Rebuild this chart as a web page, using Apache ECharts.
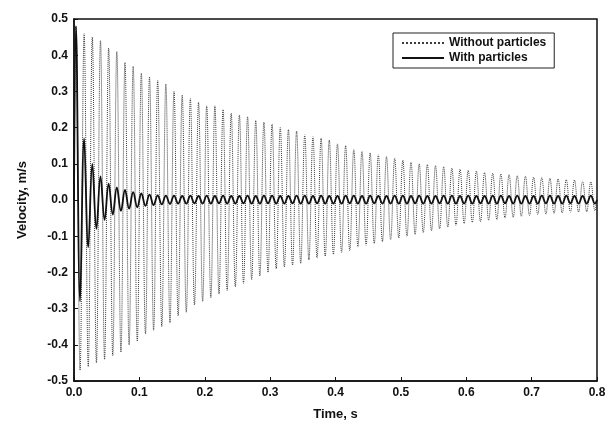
<!DOCTYPE html>
<html>
<head>
<meta charset="utf-8">
<script src="https://cdn.jsdelivr.net/npm/echarts@6/dist/echarts.min.js"></script>
<style>
  html, body { margin: 0; padding: 0; background: #fff; }
  #chart { width: 611px; height: 428px; }
</style>
</head>
<body>
<div id="chart"></div>
<script>
// peak times (s): one row = two oscillation cycles
var peakTime = [0,
  0.003, 0.0093, 0.0155, 0.0218,  0.028, 0.0343, 0.0405, 0.0468,
  0.053, 0.0593, 0.0655, 0.0718,  0.078, 0.0843, 0.0905, 0.0968,
  0.103, 0.1093, 0.1155, 0.1218,  0.128, 0.1343, 0.1405, 0.1468,
  0.153, 0.1593, 0.1655, 0.1718,  0.178, 0.1843, 0.1905, 0.1968,
  0.203, 0.2093, 0.2155, 0.2218,  0.228, 0.2343, 0.2405, 0.2468,
  0.253, 0.2593, 0.2655, 0.2718,  0.278, 0.2843, 0.2905, 0.2968,
  0.303, 0.3093, 0.3155, 0.3218,  0.328, 0.3343, 0.3405, 0.3468,
  0.353, 0.3593, 0.3655, 0.3718,  0.378, 0.3843, 0.3905, 0.3968,
  0.403, 0.4093, 0.4155, 0.4218,  0.428, 0.4343, 0.4405, 0.4468,
  0.453, 0.4593, 0.4655, 0.4718,  0.478, 0.4843, 0.4905, 0.4968,
  0.503, 0.5093, 0.5155, 0.5218,  0.528, 0.5343, 0.5405, 0.5468,
  0.553, 0.5593, 0.5655, 0.5718,  0.578, 0.5843, 0.5905, 0.5968,
  0.603, 0.6093, 0.6155, 0.6218,  0.628, 0.6343, 0.6405, 0.6468,
  0.653, 0.6593, 0.6655, 0.6718,  0.678, 0.6843, 0.6905, 0.6968,
  0.703, 0.7093, 0.7155, 0.7218,  0.728, 0.7343, 0.7405, 0.7468,
  0.753, 0.7593, 0.7655, 0.7718,  0.778, 0.7843, 0.7905, 0.7968,
  0.8];

// velocity peaks (m/s), without particles
var velWithout = [0,
  0.48, -0.47, 0.46, -0.46,      0.45, -0.45, 0.44, -0.44,
  0.42, -0.43, 0.41, -0.42,      0.38, -0.40, 0.37, -0.39,
  0.35, -0.37, 0.34, -0.36,      0.33, -0.35, 0.32, -0.34,
  0.30, -0.32, 0.29, -0.31,      0.28, -0.29, 0.27, -0.28,
  0.26, -0.27, 0.26, -0.26,      0.25, -0.25, 0.24, -0.24,
  0.235, -0.23, 0.23, -0.22,     0.22, -0.21, 0.215, -0.20,
  0.21, -0.19, 0.20, -0.185,     0.195, -0.18, 0.19, -0.175,
  0.18, -0.165, 0.175, -0.16,    0.17, -0.155, 0.165, -0.15,
  0.155, -0.145, 0.15, -0.14,    0.14, -0.13, 0.135, -0.125,
  0.13, -0.12, 0.125, -0.115,    0.12, -0.11, 0.115, -0.105,
  0.11, -0.10, 0.105, -0.095,    0.10, -0.09, 0.098, -0.085,
  0.095, -0.08, 0.092, -0.075,   0.088, -0.07, 0.085, -0.065,
  0.082, -0.062, 0.08, -0.06,    0.076, -0.056, 0.074, -0.054,
  0.072, -0.05, 0.07, -0.048,    0.067, -0.045, 0.066, -0.043,
  0.063, -0.04, 0.062, -0.039,   0.06, -0.037, 0.058, -0.036,
  0.056, -0.034, 0.055, -0.033,  0.052, -0.032, 0.05, -0.03,
  0.01];

// velocity peaks (m/s), with particles
var velWith = [0,
  0.48, -0.28, 0.17, -0.13,      0.10, -0.08, 0.065, -0.055,
  0.045, -0.04, 0.035, -0.03,    0.028, -0.024, 0.022, -0.02,
  0.018, -0.016, 0.015, -0.014,  0.013, -0.012, 0.012, -0.011,
  0.012, -0.01, 0.011, -0.01,    0.012, -0.009, 0.011, -0.01,
  0.012, -0.01, 0.011, -0.009,   0.012, -0.01, 0.011, -0.01,
  0.011, -0.009, 0.012, -0.01,   0.011, -0.01, 0.012, -0.009,
  0.012, -0.01, 0.011, -0.01,    0.011, -0.009, 0.012, -0.01,
  0.012, -0.01, 0.011, -0.009,   0.012, -0.01, 0.011, -0.01,
  0.011, -0.01, 0.012, -0.009,   0.012, -0.01, 0.011, -0.01,
  0.012, -0.009, 0.011, -0.01,   0.011, -0.01, 0.012, -0.01,
  0.012, -0.01, 0.011, -0.009,   0.012, -0.01, 0.011, -0.01,
  0.011, -0.009, 0.012, -0.01,   0.012, -0.01, 0.011, -0.01,
  0.012, -0.01, 0.011, -0.009,   0.011, -0.01, 0.012, -0.01,
  0.012, -0.009, 0.011, -0.01,   0.012, -0.01, 0.011, -0.01,
  0.011, -0.01, 0.012, -0.009,   0.012, -0.01, 0.011, -0.01,
  0.012, -0.009, 0.011, -0.01,   0.011, -0.01, 0.012, -0.01,
  0];

var seriesNames = ['Without particles', 'With particles'];

var font = 'Liberation Sans, Arial, sans-serif';

function pairs(vals) {
    return peakTime.map(function (t, i) { return [t, vals[i]]; });
}

var myChart = echarts.init(document.getElementById('chart'));
var option = {
    animation: false,
    backgroundColor: '#fff',
    textStyle: { fontFamily: font },
    grid: {
        left: 74, right: 14, top: 19, bottom: 47,
        show: true,
        borderColor: '#111',
        borderWidth: 1.5,
        backgroundColor: 'transparent'
    },
    legend: {
        orient: 'vertical',
        left: 393,
        top: 33,
        width: 175,
        padding: [4, 8, 4, 8],
        itemGap: 3,
        itemWidth: 42,
        itemHeight: 10,
        borderColor: '#222',
        borderWidth: 1,
        data: seriesNames,
        // hide the symbol in the legend icon, keep the line sample
        itemStyle: { opacity: 0 },
        textStyle: { fontSize: 12, fontWeight: 'bold', color: '#111', fontFamily: font }
    },
    xAxis: {
        type: 'value',
        min: 0, max: 0.8, interval: 0.1,
        name: 'Time, s',
        nameLocation: 'middle',
        nameGap: 27,
        nameTextStyle: { fontSize: 13, fontWeight: 'bold', color: '#111' },
        axisLine: { show: true, onZero: false, lineStyle: { color: '#111', width: 1.5 } },
        axisTick: { show: true, inside: true, length: 4, lineStyle: { color: '#111' } },
        splitLine: { show: false },
        axisLabel: {
            color: '#111', fontSize: 12, fontWeight: 'bold', margin: 6,
            formatter: function (v) { return v.toFixed(1); }
        }
    },
    yAxis: {
        type: 'value',
        min: -0.5, max: 0.5, interval: 0.1,
        name: 'Velocity, m/s',
        nameLocation: 'middle',
        nameGap: 45,
        nameTextStyle: { fontSize: 13, fontWeight: 'bold', color: '#111' },
        axisLine: { show: true, lineStyle: { color: '#111', width: 1.5 } },
        axisTick: { show: true, inside: true, length: 4, lineStyle: { color: '#111' } },
        splitLine: { show: false },
        axisLabel: {
            color: '#111', fontSize: 12, fontWeight: 'bold', margin: 6,
            formatter: function (v) { return v.toFixed(1); }
        }
    },
    series: [
        {
            name: seriesNames[0],
            type: 'line',
            data: pairs(velWithout),
            smooth: 0.4,
            symbol: 'none',
            lineStyle: { color: '#3a3a3a', width: 1, type: 'dotted' },
            itemStyle: { color: '#3a3a3a' },
            z: 2
        },
        {
            name: seriesNames[1],
            type: 'line',
            data: pairs(velWith),
            smooth: 0.4,
            symbol: 'none',
            lineStyle: { color: '#111', width: 1.8 },
            itemStyle: { color: '#111' },
            z: 3
        }
    ]
};
myChart.setOption(option);
</script>
</body>
</html>
